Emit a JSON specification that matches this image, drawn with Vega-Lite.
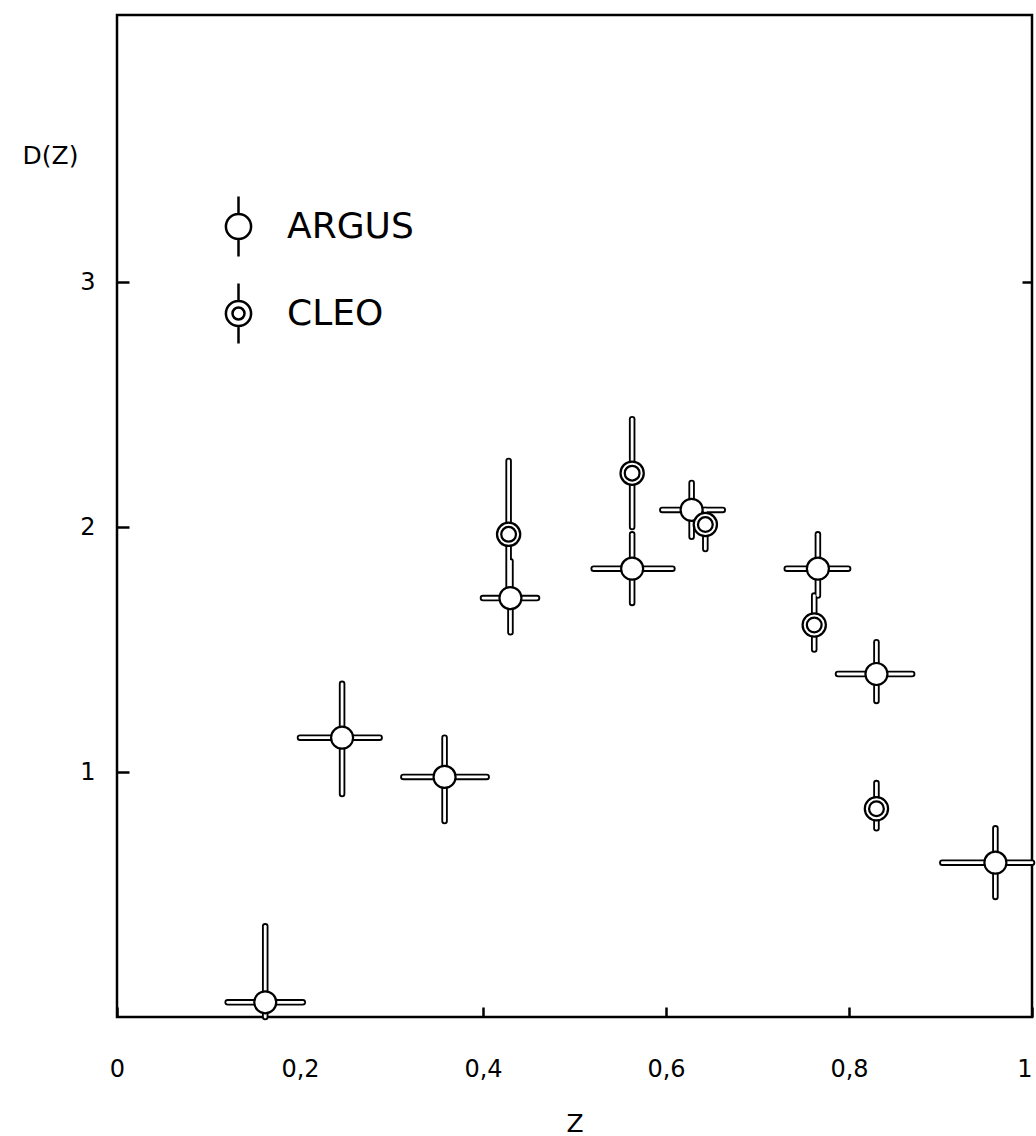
{
  "$schema": "https://vega.github.io/schema/vega-lite/v6.json",
  "width": 915,
  "height": 1002,
  "autosize": "none",
  "padding": {"left": 117, "top": 15, "right": 4, "bottom": 119},
  "background": "white",
  "config": {
    "view": {"stroke": "black", "strokeWidth": 2.5},
    "axis": {"domain": false, "grid": false, "tickColor": "black", "tickWidth": 2.5, "labelColor": "black", "titleColor": "black", "labelFont": "DejaVu Sans", "titleFont": "DejaVu Sans", "labelFontSize": 24, "titleFontSize": 25, "titleFontWeight": "normal"}
  },
  "data": {
    "values": [
      {"series": "ARGUS", "z": 0.162, "D": 0.06, "zlo": 0.121, "zhi": 0.203, "Dlo": 0.0, "Dhi": 0.37},
      {"series": "ARGUS", "z": 0.246, "D": 1.14, "zlo": 0.200, "zhi": 0.287, "Dlo": 0.91, "Dhi": 1.36},
      {"series": "ARGUS", "z": 0.358, "D": 0.98, "zlo": 0.313, "zhi": 0.404, "Dlo": 0.80, "Dhi": 1.14},
      {"series": "ARGUS", "z": 0.430, "D": 1.71, "zlo": 0.400, "zhi": 0.459, "Dlo": 1.57, "Dhi": 1.86},
      {"series": "ARGUS", "z": 0.563, "D": 1.83, "zlo": 0.521, "zhi": 0.607, "Dlo": 1.69, "Dhi": 1.97},
      {"series": "ARGUS", "z": 0.628, "D": 2.07, "zlo": 0.596, "zhi": 0.662, "Dlo": 1.96, "Dhi": 2.18},
      {"series": "ARGUS", "z": 0.766, "D": 1.83, "zlo": 0.732, "zhi": 0.799, "Dlo": 1.72, "Dhi": 1.97},
      {"series": "ARGUS", "z": 0.830, "D": 1.40, "zlo": 0.788, "zhi": 0.869, "Dlo": 1.29, "Dhi": 1.53},
      {"series": "ARGUS", "z": 0.960, "D": 0.63, "zlo": 0.902, "zhi": 1.0, "Dlo": 0.49, "Dhi": 0.77},
      {"series": "CLEO", "z": 0.428, "D": 1.97, "zlo": null, "zhi": null, "Dlo": 1.75, "Dhi": 2.27},
      {"series": "CLEO", "z": 0.563, "D": 2.22, "zlo": null, "zhi": null, "Dlo": 2.00, "Dhi": 2.44},
      {"series": "CLEO", "z": 0.643, "D": 2.01, "zlo": null, "zhi": null, "Dlo": 1.91, "Dhi": 2.07},
      {"series": "CLEO", "z": 0.762, "D": 1.60, "zlo": null, "zhi": null, "Dlo": 1.50, "Dhi": 1.72},
      {"series": "CLEO", "z": 0.830, "D": 0.85, "zlo": null, "zhi": null, "Dlo": 0.77, "Dhi": 0.955}
    ]
  },
  "resolve": {"axis": {"y": "independent", "x": "independent"}},
  "layer": [
    {
      "mark": {"type": "rule", "color": "black", "strokeWidth": 6.5, "strokeCap": "round"},
      "encoding": {
        "x": {"field": "z", "type": "quantitative", "scale": {"domain": [0, 1], "nice": false},
          "axis": {"orient": "bottom", "values": [0, 0.2, 0.4, 0.6, 0.8, 1], "tickSize": -10, "labelPadding": 50, "labelExpr": "replace(format(datum.value, '.1~f'), '.', ',')", "labelFlush": false,
            "labelAlign": {"condition": {"test": "datum.value === 1", "value": "right"}, "value": "center"},
            "tickColor": {"condition": {"test": "datum.value === 0.2", "value": "transparent"}, "value": "black"},
            "title": "Z", "titlePadding": 30}},
        "y": {"field": "Dlo", "type": "quantitative", "scale": {"domain": [0, 4.09], "nice": false},
          "axis": {"orient": "left", "values": [1, 2, 3], "tickSize": -12, "labelPadding": 34, "title": "D(Z)", "titleAngle": 0, "titleX": -67, "titleY": 140, "titleAlign": "center", "titleBaseline": "middle", "format": "d"}},
        "y2": {"field": "Dhi"}
      }
    },
    {
      "transform": [{"filter": "isValid(datum.zlo)"}],
      "mark": {"type": "rule", "color": "black", "strokeWidth": 6.5, "strokeCap": "round"},
      "encoding": {
        "x": {"field": "zlo", "type": "quantitative", "scale": {"domain": [0, 1], "nice": false}, "axis": null},
        "x2": {"field": "zhi"},
        "y": {"field": "D", "type": "quantitative", "scale": {"domain": [0, 4.09], "nice": false},
          "axis": {"orient": "right", "values": [3], "tickSize": -10, "labels": false, "title": null}}
      }
    },
    {
      "mark": {"type": "rule", "color": "white", "strokeWidth": 2.8, "strokeCap": "round"},
      "encoding": {
        "x": {"field": "z", "type": "quantitative", "axis": null},
        "y": {"field": "Dlo", "type": "quantitative", "axis": null},
        "y2": {"field": "Dhi"}
      }
    },
    {
      "transform": [{"filter": "isValid(datum.zlo)"}],
      "mark": {"type": "rule", "color": "white", "strokeWidth": 2.8, "strokeCap": "round"},
      "encoding": {
        "x": {"field": "zlo", "type": "quantitative", "axis": null},
        "x2": {"field": "zhi"},
        "y": {"field": "D", "type": "quantitative", "axis": null}
      }
    },
    {
      "transform": [{"filter": "datum.series === 'ARGUS'"}],
      "mark": {"type": "point", "shape": "circle", "filled": false, "fill": "white", "fillOpacity": 1, "stroke": "black", "strokeWidth": 2.2, "size": 484, "opacity": 1},
      "encoding": {
        "x": {"field": "z", "type": "quantitative", "axis": null},
        "y": {"field": "D", "type": "quantitative", "axis": null}
      }
    },
    {
      "transform": [{"filter": "datum.series === 'CLEO'"}],
      "mark": {"type": "point", "shape": "circle", "filled": false, "fill": "white", "fillOpacity": 1, "stroke": "black", "strokeWidth": 6.5, "size": 361, "opacity": 1},
      "encoding": {
        "x": {"field": "z", "type": "quantitative", "axis": null},
        "y": {"field": "D", "type": "quantitative", "axis": null}
      }
    },
    {
      "transform": [{"filter": "datum.series === 'CLEO'"}],
      "mark": {"type": "point", "shape": "circle", "filled": false, "stroke": "white", "strokeWidth": 2, "size": 361, "opacity": 1},
      "encoding": {
        "x": {"field": "z", "type": "quantitative", "axis": null},
        "y": {"field": "D", "type": "quantitative", "axis": null}
      }
    },
    {
      "mark": {"type": "point", "opacity": 0},
      "encoding": {
        "x": {"field": "z", "type": "quantitative", "axis": null},
        "y": {"field": "D", "type": "quantitative", "axis": null},
        "shape": {
          "field": "series", "type": "nominal",
          "scale": {"domain": ["ARGUS", "CLEO"], "range": [
            "M -0.42 0 A 0.42 0.42 0 1 0 0.42 0 A 0.42 0.42 0 1 0 -0.42 0 Z M 0 -1 L 0 -0.42 M 0 0.42 L 0 1",
            "M -0.42 0 A 0.42 0.42 0 1 0 0.42 0 A 0.42 0.42 0 1 0 -0.42 0 Z M -0.2 0 A 0.2 0.2 0 1 0 0.2 0 A 0.2 0.2 0 1 0 -0.2 0 Z M 0 -1 L 0 -0.42 M 0 0.42 L 0 1"
          ]},
          "legend": {"orient": "none", "legendX": 90, "legendY": 180, "title": null, "padding": 0, "symbolSize": 3600, "symbolOpacity": 1, "symbolFillColor": "white", "symbolStrokeColor": "black", "symbolStrokeWidth": 2.5, "labelFont": "DejaVu Sans", "labelFontSize": 36, "labelColor": "black", "labelOffset": 17, "rowPadding": 16, "labelLimit": 400}
        }
      }
    }
  ]
}
